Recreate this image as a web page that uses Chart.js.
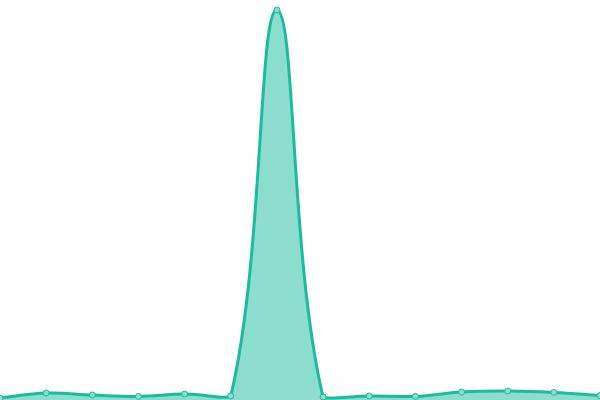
<!DOCTYPE html>
<html>
<head>
<meta charset="utf-8">
<script src="https://cdn.jsdelivr.net/npm/chart.js@4"></script>
<style>
  html, body { margin: 0; padding: 0; background: #fff; }
  #wrap { width: 600px; height: 400px; }
</style>
</head>
<body>
<div id="wrap"><canvas id="chart"></canvas></div>
<script>
// data
const labels = ["1", "2", "3", "4", "5", "6", "7", "8", "9", "10", "11", "12", "13", "14"];
const values = [0.5, 1.75, 1.25, 0.9, 1.5, 1.0, 97.5, 0.75, 1.0, 0.9, 2.0, 2.25, 1.9, 1.1];
const yMin = 0;
const yMax = 100;

new Chart(document.getElementById("chart"), {
  type: "line",
  data: {
    labels: labels,
    datasets: [{
      data: values,
      borderColor: "#1abc9c",
      backgroundColor: "rgba(26, 188, 156, 0.5)",
      borderWidth: 3,
      fill: true,
      tension: 0.4,
      pointRadius: 3,
      pointBorderWidth: 1,
      pointBackgroundColor: "rgba(140, 221, 205, 1)",
      pointBorderColor: "#1abc9c",
    }]
  },
  options: {
    responsive: true,
    maintainAspectRatio: false,
    animation: false,
    layout: { padding: 0, autoPadding: false },
    plugins: { legend: { display: false }, tooltip: { enabled: false } },
    scales: {
      x: { display: false, offset: false },
      y: { display: false, min: yMin, max: yMax }
    }
  }
});
</script>
</body>
</html>
